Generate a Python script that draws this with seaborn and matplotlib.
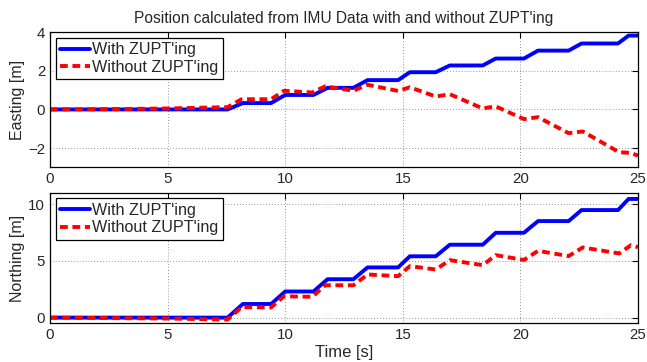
import numpy as np
import pandas as pd
import matplotlib
matplotlib.use("Agg")
import matplotlib.pyplot as plt
import seaborn as sns

title = "Position calculated from IMU Data with and without ZUPT'ing"
labels = ["With ZUPT'ing", "Without ZUPT'ing"]

t_with = [0, 7.55, 8.2, 9.4, 10.0, 11.2, 11.8, 12.9, 13.5, 14.8, 15.3, 16.4, 17.0,
          18.4, 18.95, 20.15, 20.75, 22.05, 22.6, 24.15, 24.6, 25]
east_with = [0, 0, 0.33, 0.33, 0.75, 0.75, 1.12, 1.12, 1.52, 1.52, 1.93, 1.93, 2.28,
             2.28, 2.64, 2.64, 3.05, 3.05, 3.42, 3.42, 3.83, 3.83]
north_with = [0, 0, 1.2, 1.2, 2.3, 2.3, 3.38, 3.38, 4.42, 4.42, 5.4, 5.4, 6.42,
              6.42, 7.47, 7.47, 8.5, 8.5, 9.47, 9.47, 10.45, 10.45]

t_without = [0, 3, 5, 7.55, 8.15, 9.4, 9.95, 11.15, 11.7, 12.9, 13.5, 14.8, 15.3,
             16.4, 17.0, 18.4, 18.95, 20.15, 20.75, 22.05, 22.65, 24.2, 24.7, 25]
east_without = [0, 0.02, 0.05, 0.12, 0.53, 0.53, 0.97, 0.88, 1.2, 0.97, 1.28, 0.96, 1.15,
                0.67, 0.79, 0.05, 0.16, -0.5, -0.4, -1.23, -1.14, -2.22, -2.25, -2.4]
north_without = [0, -0.05, -0.08, -0.17, 0.92, 0.9, 1.88, 1.83, 2.85, 2.85, 3.8, 3.65, 4.53,
                 4.24, 5.06, 4.62, 5.5, 5.08, 5.88, 5.42, 6.18, 5.65, 6.38, 6.2]

x_ticks = [0, 5, 10, 15, 20, 25]
east_ticks = [-2, 0, 2, 4]
north_ticks = [0, 5, 10]

sns.set_style("white")
plt.rcParams['font.family'] = ['Liberation Sans', 'DejaVu Sans']

fig = plt.figure(figsize=(6.47, 3.62), dpi=100)
ax1 = fig.add_axes([50/647, 1-167.3/362, 588/647, (167.3-32.3)/362])
ax2 = fig.add_axes([50/647, 1-323.3/362, 588/647, (323.3-192.7)/362])

def draw(ax, yw, yo):
    sns.lineplot(x=t_with, y=yw, ax=ax, color="#0000ff", lw=2.8,
                 label=labels[0], estimator=None, sort=False)
    sns.lineplot(x=t_without, y=yo, ax=ax, color="#ff0000", lw=2.8,
                 label=labels[1], estimator=None, sort=False, dashes=False)
    ax.lines[1].set_dashes([2.0, 1.2])
    ax.set_xlim(0, 25)
    ax.set_xticks(x_ticks)
    ax.grid(True, linestyle=(0, (1, 2.5)), color="0.45", lw=0.6)
    ax.tick_params(direction="in", top=True, right=True, length=4, width=0.8,
                   labelsize=10.8, color="black", pad=3.5)
    for s in ax.spines.values():
        s.set_color("black")
        s.set_linewidth(0.9)
    leg = ax.legend(loc="upper left", fontsize=11.6, frameon=True, fancybox=False,
                    edgecolor="black", framealpha=1, handlelength=1.85,
                    handletextpad=0.15, borderpad=0.28, labelspacing=0.15,
                    borderaxespad=0.35)
    leg.get_frame().set_linewidth(0.9)

draw(ax1, east_with, east_without)
ax1.set_ylim(-3, 4)
ax1.set_yticks(east_ticks)
ax1.set_ylabel("Easting [m]", fontsize=11.5, labelpad=2)
ax1.set_xlabel("")
ax1.set_title(title, fontsize=11.2, pad=7)

draw(ax2, north_with, north_without)
ax2.set_ylim(-0.5, 11)
ax2.set_yticks(north_ticks)
ax2.set_ylabel("Northing [m]", fontsize=11.5, labelpad=2)
ax2.set_xlabel("Time [s]", fontsize=12, labelpad=2)

fig.savefig("out.png", dpi=100)
